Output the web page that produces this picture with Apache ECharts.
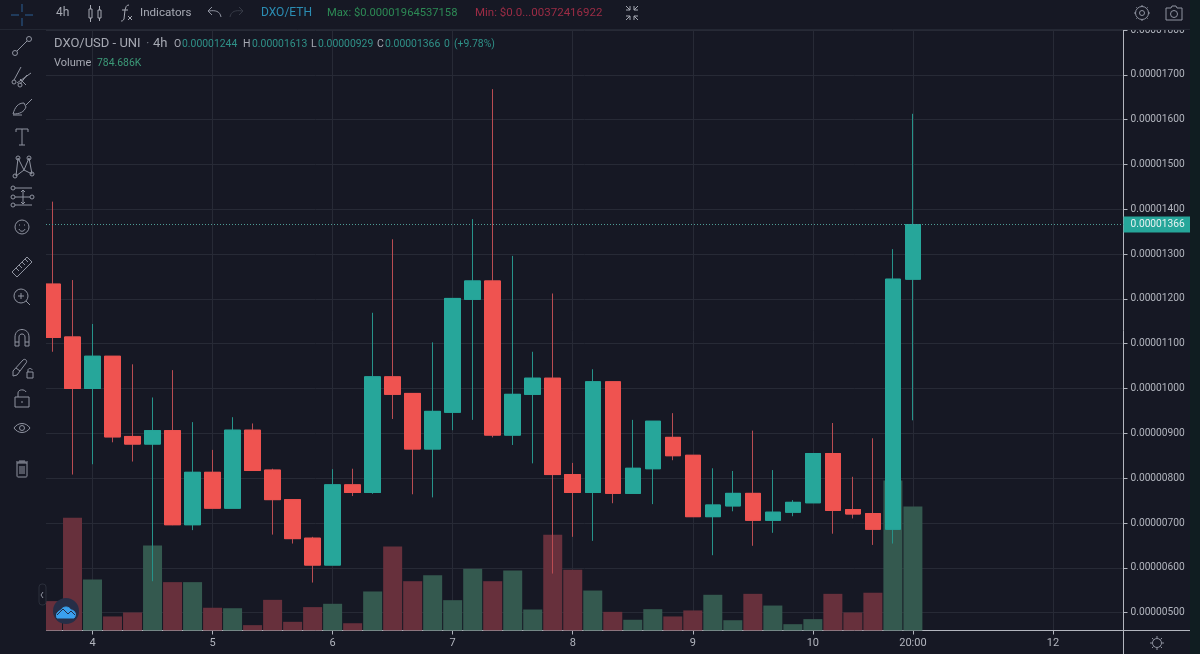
<!DOCTYPE html>
<html>
<head>
<meta charset="utf-8">
<title>DXO/USD - UNI</title>
<script src="https://cdn.jsdelivr.net/npm/echarts@6/dist/echarts.min.js"></script>
<style>
  html, body { margin: 0; padding: 0; background: #161824; }
  #chart { width: 1200px; height: 654px; }
</style>
</head>
<body>
<div id="chart"></div>
<script>
// prices are in units of 0.00000001, volume in K, one candle every 4h
const open  = [1233,1115,1000,1072,893,876,906,696,813,733,907,818,752,666,606,785,768,1026,989,865,947,1199,1240,896,987,1023,808,768,1015,766,821,891,851,714,738,766,706,724,745,855,730,721,686,1244];
const close = [1114,1000,1072,892,876,906,696,813,733,907,817,752,665,606,785,768,1026,987,865,949,1201,1240,896,987,1023,808,768,1015,766,822,927,850,714,740,766,706,724,746,855,728,720,686,1244,1366];
const low   = [1082,808,831,880,837,570,695,684,733,733,817,674,654,567,606,760,765,932,764,757,907,930,891,874,833,587,669,660,744,766,742,840,714,628,726,649,678,715,745,676,710,651,654,929];
const high  = [1417,1242,1144,1072,1054,980,1041,925,863,936,922,821,752,669,820,821,1169,1333,989,1103,1201,1378,1668,1296,1082,1212,834,1043,1015,930,927,945,851,822,816,906,818,751,855,923,803,889,1311,1613];
const volume = [186,713,323,89,114,538,306,306,144,141,34,194,55,148,169,46,247,532,312,350,192,390,312,380,133,606,384,253,118,68,135,89,127,226,65,232,158,40,72,232,114,239,950,785];

const yTicks = [500,600,700,800,900,1000,1100,1200,1300,1400,1500,1600,1700,1800];
const xTicks = [2,8,14,20,26,32,38,43,50];
const xLabels = ["4","5","6","7","8","9","10","20:00","12"];
const lastPrice = 1366;

const BG = "#161824";
const GRID = "#272a36";
const AXIS = "#b2b5be";
const UP = "#26a69a";
const DOWN = "#ef5350";
const ICON = "#8f93a0";
const FONT = "Roboto, sans-serif";

const fmtPrice = v => (v / 1e8).toFixed(8);
const idx = open.map((_, i) => i);

const chart = echarts.init(document.getElementById("chart"), null, { renderer: "canvas" });

// small helpers for the toolbar icons
function ring(x, y, r) {
  return `M${x - r} ${y}a${r} ${r} 0 1 0 ${2 * r} 0a${r} ${r} 0 1 0 ${-2 * r} 0`;
}
let iconCount = 0;
function pathType(d) {
  const name = "tvIcon" + iconCount++;
  echarts.graphic.registerShape(name, echarts.graphic.extendPath(d, {}));
  return name;
}
function icon(x, y, d, color) {
  return { type: pathType(d), x, y, z: 20, shape: {},
    style: { fill: "none", stroke: color || ICON, lineWidth: 1 } };
}
function txt(x, y, text, fill, size) {
  return { type: "text", x, y, z: 21, style: { text, fill, font: `${size || 11}px ${FONT}`, textVerticalAlign: "middle" } };
}

const toolbar = [
  // panels that sit over the plot edge
  { type: "rect", z: 10, shape: { x: 0, y: 0, width: 1200, height: 29 }, style: { fill: BG } },
  { type: "rect", z: 10, shape: { x: 0, y: 0, width: 46, height: 654 }, style: { fill: BG } },
  { type: "rect", z: 11, shape: { x: 1190, y: 0, width: 10, height: 654 }, style: { fill: "#101d21" } },
  { type: "line", z: 11, shape: { x1: 0, y1: 29.5, x2: 1190, y2: 29.5 }, style: { stroke: "#232733" } },
  { type: "line", z: 11, shape: { x1: 1123.5, y1: 630, x2: 1123.5, y2: 654 }, style: { stroke: AXIS } },
  { type: "line", z: 11, shape: { x1: 1123, y1: 630.5, x2: 1190, y2: 630.5 }, style: { stroke: AXIS } },

  // left tools
  icon(22, 15, "M-11 0H-3M3 0H11M0 -11V-3M0 3V11", "#2b5f94"),
  icon(22, 46, "M-5 5L5 -5" + ring(-7, 7, 2.5) + ring(7, -7, 2.5)),
  icon(22, 76, "M-8 4L-1 -9M-5 7L9 -3M-2 8L5 -1M-2 3L4 9" + ring(-8, 6, 2) + ring(-2, 9, 2)),
  icon(22, 107, "M-9 7C-7 0 -4 -4 2 -4L4 0C2 5 -2 7 -9 7ZM4 -2L10 -8M-9 8H0"),
  icon(22, 137, "M-6 -8H6M-6 -8V-5M6 -8V-5M0 -8V8M-3 8H3"),
  icon(22, 167, "M-6 9L-4 -9L2 3L7 -9L10 7M-6 9L2 3L10 7" + ring(-7, 9, 2) + ring(-4, -9, 2) + ring(7, -9, 2) + ring(10, 7, 2)),
  icon(22, 197, "M-7 -9H10M-7 0H8M-7 8H10M1 -7V7M-1 -5L1 -7L3 -5M-1 5L1 7L3 5" + ring(-9, -9, 2) + ring(-9, 0, 2) + ring(10, 0, 2) + ring(-9, 8, 2)),
  icon(22, 227, ring(0, 0, 7) + "M-3 2C-2 5 2 5 3 2M-3 -2H-2M2 -2H3"),
  icon(22, 267, "M-10 5L5 -10L10 -5L-5 10ZM-6 1L-3 4M-3 -2L0 1M0 -5L3 -2M3 -8L6 -5"),
  icon(22, 297, ring(-1, -1, 7) + "M4 4L8 8M-4 -1H2M-1 -4V2"),
  icon(22, 338, "M-7 8V-1C-7 -11 7 -11 7 -1V8H3V-1C3 -5 -3 -5 -3 -1V8ZM-7 4H-3M3 4H7"),
  icon(22, 368, "M-9 3L1 -8C3 -10 6 -7 4 -5L-5 7L-9 8ZM-6 0L-2 3M5 4H11V10H5ZM6 4V2C6 0 10 0 10 2"),
  icon(22, 398, "M-7 -1H7V9H-7ZM-4 -1V-5C-4 -9 3 -9 4 -6M0 3V5"),
  icon(22, 428, "M-8 0C-4 -6 4 -6 8 0C4 6 -4 6 -8 0Z" + ring(0, 0, 2.5)),
  icon(22, 469, "M-5 -6H5V7C5 8 4 8 4 8H-4C-5 8 -5 7 -5 7ZM-6 -7H6M-3 -8H3M-2 -3V5M0 -3V5M2 -3V5"),

  // top bar
  txt(56, 13, "4h", "#a6a9b3", 12),
  icon(95, 13, "M-6 -4H-3V5H-6ZM-4.5 -8V-4M-4.5 5V9M3 -3H6V5H3ZM4.5 -7V-3M4.5 5V8", "#a6a9b3"),
  icon(126, 13, "M3 -8C0 -8 0 -6 -1 -3L-2 6C-3 8 -4 8 -5 8M-4 -3H2M2 3L6 7M6 3L2 7", "#a6a9b3"),
  txt(140, 13, "Indicators", "#a6a9b3", 11.6),
  icon(214, 13, "M7 4C6 -2 1 -3 -5 -2M-2 -6L-6 -2L-2 2", "#8f93a0"),
  icon(237, 13, "M-7 4C-6 -2 -1 -3 5 -2M2 -6L6 -2L2 2", "#363a46"),
  txt(261, 13, "DXO/ETH", "#2b8db3", 12),
  txt(327, 13, "Max: $0.00001964537158", "#2d8a55", 11.2),
  txt(475, 13, "Min: $0.0...00372416922", "#9c2c45", 11.5),
  icon(632, 13, "M-6 -7L-2 -3M-2 -7V-3H-6M6 -7L2 -3M2 -7V-3H6M-6 7L-2 3M-2 7V3H-6M6 7L2 3M2 7V3H6", "#a6a9b3"),
  icon(1142, 13, ring(0, 0, 2.5) + ring(0, 0, 6.5) + "M0 -8V-6.5M0 6.5V8M-8 0H-6.5M6.5 0H8M-5.6 -5.6L-4.6 -4.6M4.6 4.6L5.6 5.6M-5.6 5.6L-4.6 4.6M4.6 -4.6L5.6 -5.6"),
  icon(1174, 13, "M-8 -5H-3L-2 -7H2L3 -5H8V7H-8Z" + ring(0, 1, 3.5)),

  // legend
  txt(54, 44, "DXO/USD - UNI", "#a6a9b3", 13),
  txt(146, 44, "·", "#6a6e79", 13),
  txt(153, 44, "4h", "#a6a9b3", 13),
  txt(174, 44, "O", "#a6a9b3", 10.5), txt(182, 44, "0.00001244", "#2f9188", 10.4),
  txt(243, 44, "H", "#a6a9b3", 10.5), txt(252, 44, "0.00001613", "#2f9188", 10.4),
  txt(311, 44, "L", "#a6a9b3", 10.5), txt(318, 44, "0.00000929", "#2f9188", 10.4),
  txt(377, 44, "C", "#a6a9b3", 10.5), txt(385, 44, "0.00001366", "#2f9188", 10.4),
  txt(444, 44, "0", "#2f9188", 10.4), txt(454, 44, "(+9.78%)", "#2f9188", 10.4),
  txt(54, 63, "Volume", "#a6a9b3", 11),
  txt(97, 63, "784.686K", "#3c9a78", 10.4),

  // pane toggle, badge and settings
  { type: "rect", z: 20, shape: { x: 39, y: 584, width: 7, height: 21, r: 3 }, style: { fill: "none", stroke: "#2a2e3a" } },
  icon(42, 595, "M1 -3L-1 0L1 3", "#8f93a0"),
  { type: "circle", z: 20, shape: { cx: 66, cy: 611, r: 13 }, style: { fill: "#262e47" } },
  { type: pathType("M-9 6C-11 1 -7 -1 -5 -2C-3 -6 3 -6 5 -2C9 -2 11 3 8 6Z"), z: 21, x: 66, y: 612, shape: {},
    style: { fill: "#3aa0ee", stroke: "#3aa0ee", lineWidth: 1 } },
  Object.assign(icon(66, 612, "M-9 3L-3 -3L2 2L5 -1L9 3", "#262e47"), { z: 22 }),
  icon(1157, 643, ring(0, 0, 4.5) + "M0 -7V-5M0 5V7M-7 0H-5M5 0H7M-5 -5L-3.5 -3.5M3.5 3.5L5 5M-5 5L-3.5 3.5M3.5 -3.5L5 -5")
];

const option = {
  animation: false,
  backgroundColor: BG,
  textStyle: { fontFamily: FONT },
  grid: { left: 46, right: 76.5, top: 30, height: 600.5, containLabel: false },
  xAxis: {
    type: "value", min: -0.325, max: 53.525,
    axisLine: { onZero: false, lineStyle: { color: AXIS } },
    axisTick: { show: true, length: 4, customValues: xTicks, lineStyle: { color: AXIS } },
    axisLabel: {
      customValues: xTicks, color: AXIS, fontSize: 11, margin: 7,
      formatter: v => xLabels[xTicks.indexOf(v)]
    },
    splitLine: { show: true, lineStyle: { color: GRID } }
  },
  yAxis: [
    {
      type: "value", position: "right", min: 460, max: 1800,
      axisLine: { show: true, onZero: false, lineStyle: { color: AXIS } },
      axisTick: { show: true, length: 4, customValues: yTicks, lineStyle: { color: AXIS } },
      axisLabel: { customValues: yTicks, color: AXIS, fontSize: 10.2, margin: 7, padding: [4, 0, 0, 0], formatter: fmtPrice },
      splitLine: { show: true, lineStyle: { color: GRID } }
    },
    { type: "value", min: 0, max: 3800, show: false, splitLine: { show: false } }
  ],
  series: [
    {
      type: "bar", name: "Volume", yAxisIndex: 1, barWidth: 19, z: 1,
      data: idx.map(i => ({
        value: [i, volume[i]],
        itemStyle: { color: close[i] >= open[i] ? "#34594f" : "#67303c" }
      }))
    },
    {
      // wicks are dimmer than the bodies, so they get their own pass
      type: "candlestick", name: "Wick", barWidth: 16, z: 2,
      encode: { x: 0, y: [1, 2, 3, 4] },
      itemStyle: { color: UP, color0: DOWN, borderColor: "#26938a", borderColor0: "#b94c52", borderWidth: 1 },
      data: idx.map(i => [i, open[i], close[i], low[i], high[i]]),
      markLine: {
        silent: true, symbol: "none",
        lineStyle: { color: "#4f9d96", type: [1, 2], width: 1 },
        label: {
          position: "end", distance: 0, formatter: () => fmtPrice(lastPrice),
          backgroundColor: UP, color: "#e6f2f1", fontSize: 10.2, padding: [3, 6, 3, 7]
        },
        data: [{ yAxis: lastPrice }]
      }
    },
    {
      type: "candlestick", name: "Body", barWidth: 16, z: 3,
      encode: { x: 0, y: [1, 2, 3, 4] },
      itemStyle: { color: UP, color0: DOWN, borderColor: UP, borderColor0: DOWN, borderWidth: 1 },
      data: idx.map(i => [i, open[i], close[i], Math.min(open[i], close[i]), Math.max(open[i], close[i])])
    }
  ],
  graphic: { elements: toolbar }
};

chart.setOption(option);
</script>
</body>
</html>
